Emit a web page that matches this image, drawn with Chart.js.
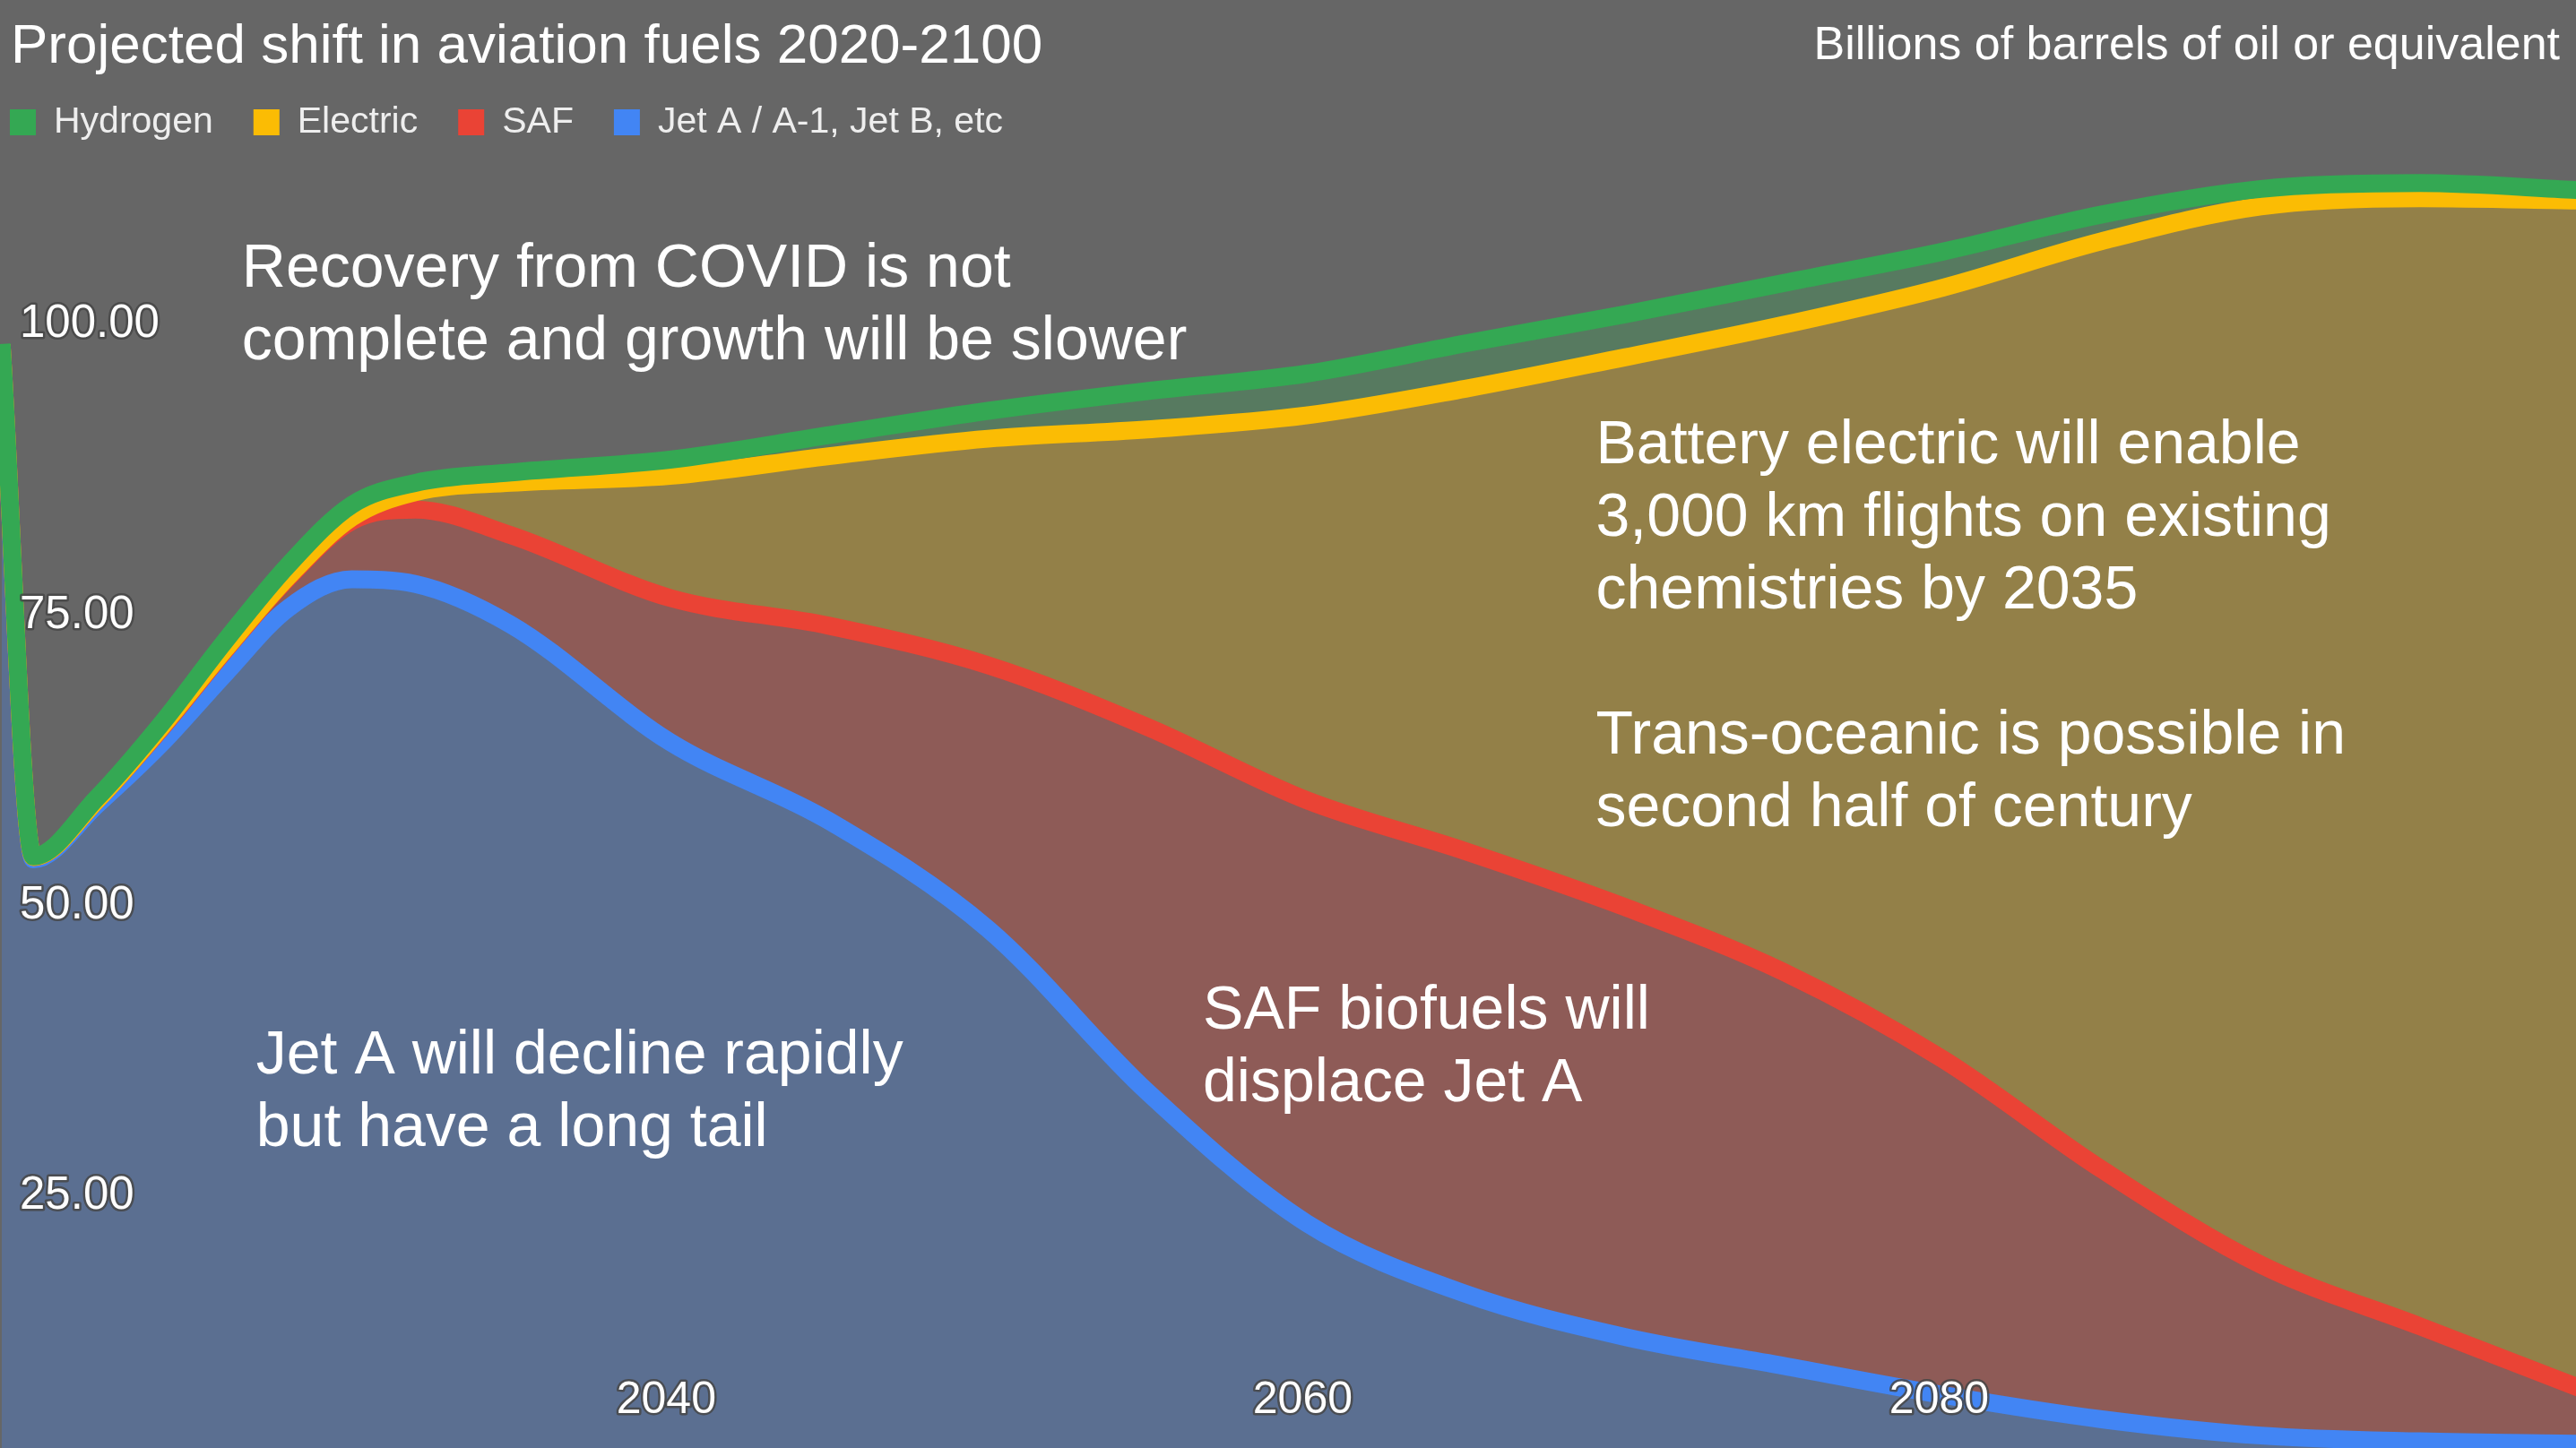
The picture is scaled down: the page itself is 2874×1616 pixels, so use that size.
<!DOCTYPE html>
<html>
<head>
<meta charset="utf-8">
<title>Projected shift in aviation fuels 2020-2100</title>
<script src="https://cdn.jsdelivr.net/npm/chart.js@4.4.1/dist/chart.umd.min.js"></script>
<style>
    html, body { margin: 0; padding: 0; background: #666666; }
    #wrap { width: 2874px; height: 1616px; position: relative; }
</style>
</head>
<body>
<div id="wrap"><canvas id="fuel-chart"></canvas></div>
<script>
// billions of barrels of oil or equivalent, per fuel
const years    = [2019, 2020, 2022, 2024, 2026, 2028, 2030, 2032, 2035, 2040, 2045, 2050, 2055, 2060, 2065, 2070, 2075, 2080, 2085, 2090, 2095, 2100];
const jetA     = [97.8, 53.6, 58.3, 63.5, 69.5, 75.2, 77.7, 77.3, 73.8, 63.7, 56.9, 47.6, 33.6, 22.3, 16.2, 12.5, 10.0, 7.5, 5.4, 4.0, 3.5, 3.3];
const saf      = [0.1, 0.2, 0.4, 1.3, 2.0, 2.6, 5.0, 6.4, 7.7, 12.4, 16.8, 22.7, 31.4, 36.4, 38.1, 37.0, 33.9, 28.9, 21.5, 14.7, 9.9, 4.8];
const electric = [0.0, 0.0, 0.0, 0.1, 0.1, 0.1, 0.3, 1.5, 4.5, 10.5, 14.6, 19.5, 25.6, 33.1, 39.8, 47.3, 55.7, 66.4, 79.9, 91.1, 97.1, 102.2];
const hydrogen = [0.05, 0.05, 0.2, 0.3, 0.7, 1.0, 1.1, 0.8, 0.9, 1.4, 1.8, 2.4, 3.3, 3.6, 3.9, 3.7, 3.6, 3.1, 2.3, 1.5, 1.3, 0.9];

const yTicks = [25, 50, 75, 100];
const xTicks = [2040, 2060, 2080];

const notes = [
    { year: 2026.55, value: 104.3, lines: ['Recovery from COVID is not', 'complete and growth will be slower'] },
    { year: 2069.1, value: 89.1, lines: ['Battery electric will enable', '3,000 km flights on existing', 'chemistries by 2035', '', 'Trans-oceanic is possible in', 'second half of century'] },
    { year: 2056.75, value: 40.5, lines: ['SAF biofuels will', 'displace Jet A'] },
    { year: 2027.0, value: 36.6, lines: ['Jet A will decline rapidly', 'but have a long tail'] }
];

const FONT = '"Liberation Sans", Arial, sans-serif';
Chart.defaults.font.family = FONT;

// running totals so every band sits on the one below it
function addUp(base, extra) {
    return base.map((v, i) => +(v + extra[i]).toFixed(2));
}
const safTop = addUp(jetA, saf);
const electricTop = addUp(safTop, electric);
const hydrogenTop = addUp(electricTop, hydrogen);

function points(vals) {
    return years.map((y, i) => ({ x: y, y: vals[i] }));
}

// white label with a soft dark rim, like the axis numbers
function rimText(ctx, text, x, y) {
    ctx.lineWidth = 5;
    ctx.lineJoin = 'round';
    ctx.strokeStyle = 'rgba(70,70,70,0.85)';
    ctx.strokeText(text, x, y);
    ctx.fillStyle = '#ffffff';
    ctx.fillText(text, x, y);
}

const overlay = {
    id: 'overlay',
    afterDatasetsDraw(chart) {
        const { ctx, chartArea, scales: { x, y } } = chart;
        ctx.save();
        // notes
        ctx.fillStyle = '#ffffff';
        ctx.font = '68px ' + FONT;
        ctx.textAlign = 'left';
        ctx.textBaseline = 'middle';
        notes.forEach(n => {
            const px = x.getPixelForValue(n.year);
            const py = y.getPixelForValue(n.value);
            n.lines.forEach((t, i) => ctx.fillText(t, px, py + i * 81));
        });

        // tick labels sit inside the plot
        ctx.font = '51px ' + FONT;
        yTicks.forEach(v => rimText(ctx, v.toFixed(2), chartArea.left + 22, y.getPixelForValue(v) + 5));
        ctx.font = '50px ' + FONT;
        ctx.textAlign = 'center';
        xTicks.forEach(v => rimText(ctx, String(v), x.getPixelForValue(v) - 4, chartArea.bottom - 53));
        ctx.restore();
    },
    afterDraw(chart) {
        const ctx = chart.ctx;
        ctx.save();
        // title + units
        ctx.fillStyle = '#ffffff';
        ctx.textBaseline = 'alphabetic';
        ctx.font = '62px ' + FONT;
        ctx.textAlign = 'left';
        ctx.fillText('Projected shift in aviation fuels 2020-2100', 12, 70);
        ctx.font = '52px ' + FONT;
        ctx.textAlign = 'right';
        ctx.fillText('Billions of barrels of oil or equivalent', 2856, 66);

        // legend
        ctx.font = '41px ' + FONT;
        ctx.textAlign = 'left';
        ctx.textBaseline = 'middle';
        let lx = 11;
        chart.data.datasets.forEach(ds => {
            ctx.fillStyle = ds.borderColor;
            ctx.fillRect(lx, 122, 29, 29);
            ctx.fillStyle = '#eeeeee';
            ctx.fillText(ds.label, lx + 49, 137);
            lx += 49 + ctx.measureText(ds.label).width + 45;
        });
        ctx.restore();
    }
};

function areachart() {
    const common = {
        borderWidth: 20,
        pointRadius: 0,
        pointHoverRadius: 0,
        cubicInterpolationMode: 'monotone',
        borderJoinStyle: 'round'
    };
    new Chart(document.getElementById('fuel-chart'), {
        type: 'line',
        data: {
            datasets: [
                { ...common, label: 'Hydrogen', data: points(hydrogenTop), borderColor: '#34a853', backgroundColor: 'rgba(52,168,83,0.3)', fill: '+1' },
                { ...common, label: 'Electric', data: points(electricTop), borderColor: '#fbbc04', backgroundColor: 'rgba(251,188,4,0.3)', fill: '+1' },
                { ...common, label: 'SAF', data: points(safTop), borderColor: '#ea4335', backgroundColor: 'rgba(234,67,53,0.3)', fill: '+1' },
                { ...common, label: 'Jet A / A-1, Jet B, etc', data: points(jetA), borderColor: '#4285f4', backgroundColor: 'rgba(66,133,244,0.3)', fill: 'origin' }
            ]
        },
        options: {
            responsive: true,
            maintainAspectRatio: false,
            animation: false,
            events: [],
            layout: { autoPadding: false, padding: 0 },
            scales: {
                x: { type: 'linear', display: false, min: 2018.95, max: 2099.9 },
                y: { type: 'linear', display: false, min: 2.93, max: 127.56 }
            },
            plugins: {
                legend: { display: false },
                tooltip: { enabled: false },
                filler: { drawTime: 'beforeDatasetsDraw' }
            }
        },
        plugins: [overlay]
    });
}

areachart();
</script>
</body>
</html>
